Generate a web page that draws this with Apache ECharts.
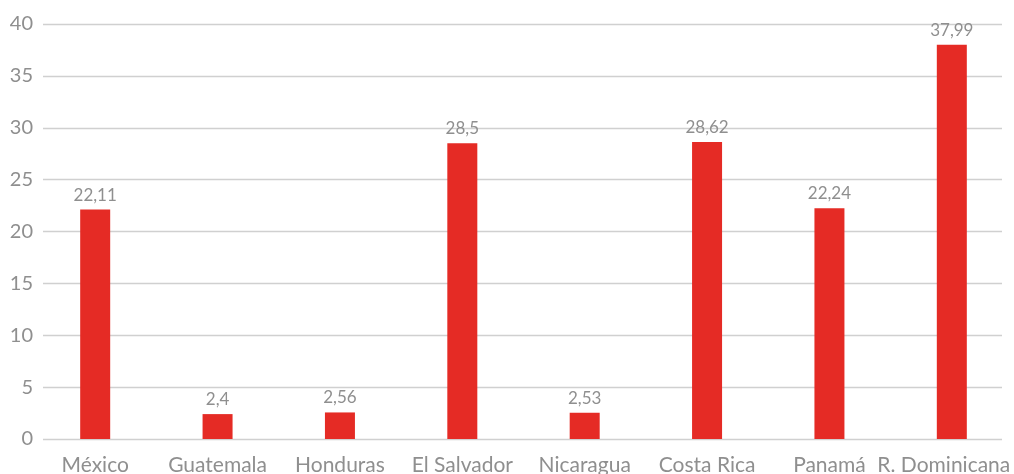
<!DOCTYPE html>
<html>
<head>
<meta charset="utf-8">
<script src="https://cdn.jsdelivr.net/npm/echarts@6/dist/echarts.min.js"></script>
<style>
html,body{margin:0;padding:0;background:#fff;}
#chart{width:1014px;height:474px;}
</style>
</head>
<body>
<div id="chart"></div>
<script>
var categories = ['México','Guatemala','Honduras','El Salvador','Nicaragua','Costa Rica','Panamá','R. Dominicana'];
var values = [22.11, 2.4, 2.56, 28.5, 2.53, 28.62, 22.24, 37.99];
var yTicks = [0, 5, 10, 15, 20, 25, 30, 35, 40];

var FONT = 'Lato';
var GRAY = '#8f8f8f';
var chart = echarts.init(document.getElementById('chart'), null, {renderer:'canvas'});
chart.setOption({
  animation: false,
  grid: [
    {left: 34, right: 1, top: 24, bottom: 35, containLabel: false, outerBoundsMode: 'none'},
    {left: 43, right: 12, top: 24, bottom: 35, containLabel: false, outerBoundsMode: 'none'}
  ],
  xAxis: [
    {
      gridIndex: 0, type: 'category', data: categories,
      axisLine: {show: false}, axisTick: {show: false},
      axisLabel: {
        color: GRAY, fontSize: 21, fontFamily: FONT, margin: 16, interval: 0,
        formatter: function(v, i){ return i === categories.length - 1 ? '{s|' + v + '}' : v; },
        rich: {s: {color: GRAY, fontSize: 21, fontFamily: FONT, padding: [0, 16, 0, 0]}}
      }
    },
    {
      gridIndex: 1, type: 'value', min: 0, max: 1, show: true,
      axisLine: {show: false}, axisTick: {show: false}, axisLabel: {show: false}, splitLine: {show: false}
    }
  ],
  yAxis: [
    {
      gridIndex: 0, type: 'value', min: yTicks[0], max: yTicks[yTicks.length-1], interval: 5,
      axisLine: {show: false}, axisTick: {show: false}, axisLabel: {show: false}, splitLine: {show: false}
    },
    {
      gridIndex: 1, type: 'value', min: yTicks[0], max: yTicks[yTicks.length-1], interval: 5,
      axisLine: {show: false}, axisTick: {show: false},
      axisLabel: {color: GRAY, fontSize: 20, fontFamily: FONT, margin: 10},
      splitLine: {lineStyle: {color: '#d0d0d0', width: 1.3}}
    }
  ],
  series: [{
    type: 'bar', xAxisIndex: 0, yAxisIndex: 0,
    data: values, barWidth: 30,
    itemStyle: {color: '#e52b25'},
    label: {
      show: true, position: 'top', distance: 6,
      color: GRAY, fontSize: 17, fontFamily: FONT,
      formatter: function(p){ return String(p.value).replace('.', ','); }
    }
  }]
});
</script>
</body>
</html>
